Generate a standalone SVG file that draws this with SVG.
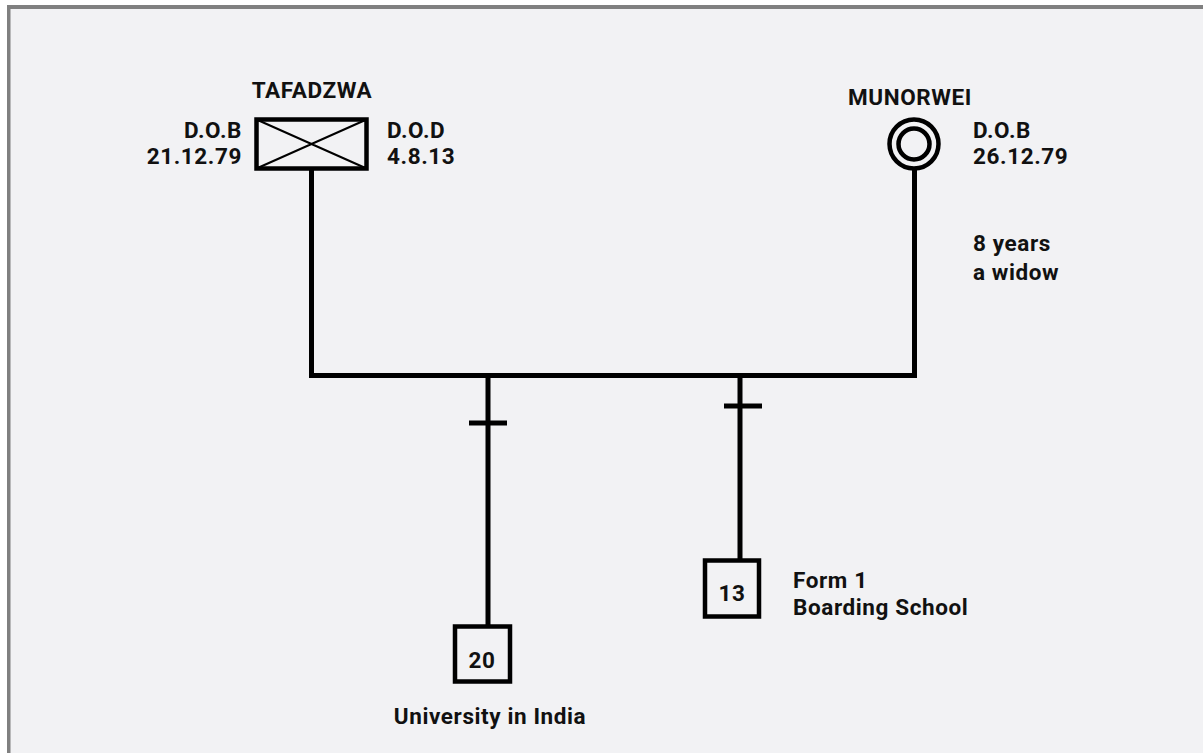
<svg xmlns="http://www.w3.org/2000/svg" width="1203" height="753" viewBox="0 0 1203 753">
<style>
.t{font-family:Roboto,"Liberation Sans",sans-serif;font-weight:bold;font-size:22.5px;letter-spacing:0.6px;fill:#111}
.ln{stroke:#000;stroke-width:5;fill:none;stroke-linecap:butt}
.bx{stroke:#000;stroke-width:4.5;fill:#f2f2f4}
</style>
<rect x="0" y="0" width="1203" height="753" fill="#ffffff"/>
<rect x="7" y="5" width="1200" height="760" fill="#f2f2f4"/>
<rect x="7" y="5" width="1196" height="4" fill="#808080"/>
<rect x="7" y="5" width="3.5" height="748" fill="#808080"/>
<g id="connectors">
<path class="ln" d="M311.5 170 V375.5 H914.5 V170"/>
<path class="ln" d="M488 375.5 V626"/>
<path class="ln" d="M740 375.5 V560"/>
<path class="ln" d="M469 423 H507" stroke-width="6"/>
<path class="ln" d="M724 406 H762" stroke-width="6"/>
</g>
<g id="tafadzwa">
<rect class="bx" x="256.5" y="119.5" width="110" height="49"/>
<path d="M256.5 119.5 L366.5 168.5 M366.5 119.5 L256.5 168.5" stroke="#000" stroke-width="2"/>
<text class="t" x="312" y="98" text-anchor="middle">TAFADZWA</text>
<text class="t" x="242" y="138" text-anchor="end">D.O.B</text>
<text class="t" x="242" y="164" text-anchor="end">21.12.79</text>
<text class="t" x="387" y="138">D.O.D</text>
<text class="t" x="387" y="164">4.8.13</text>
</g>
<g id="munorwei">
<circle cx="914" cy="144" r="24.5" fill="#f2f2f4" stroke="#000" stroke-width="4.5"/>
<circle cx="914" cy="144" r="15.5" fill="#f2f2f4" stroke="#000" stroke-width="4.5"/>
<text class="t" x="910" y="105" text-anchor="middle">MUNORWEI</text>
<text class="t" x="973" y="138">D.O.B</text>
<text class="t" x="973" y="164">26.12.79</text>
<text class="t" x="973" y="251">8 years</text>
<text class="t" x="973" y="280">a widow</text>
</g>
<g id="child20">
<rect class="bx" x="455" y="626.5" width="55" height="55"/>
<text class="t" x="482" y="668" text-anchor="middle">20</text>
<text class="t" x="490" y="724" text-anchor="middle">University in India</text>
</g>
<g id="child13">
<rect class="bx" x="705" y="560.5" width="54" height="56"/>
<text class="t" x="732" y="601" text-anchor="middle">13</text>
<text class="t" x="793" y="588">Form 1</text>
<text class="t" x="793" y="615">Boarding School</text>
</g>
</svg>
